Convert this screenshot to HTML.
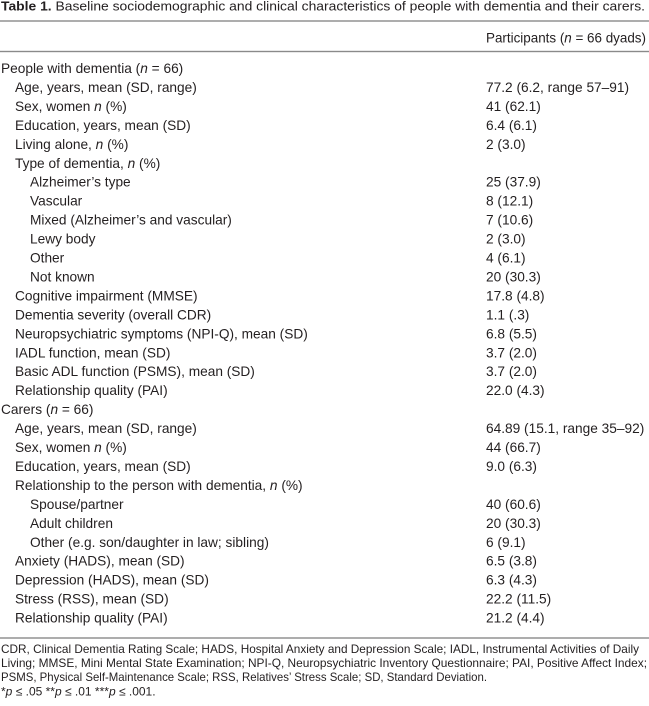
<!DOCTYPE html>
<html>
<head>
<meta charset="utf-8">
<style>
  html,body{margin:0;padding:0;background:#fff;}
  svg{display:block;}
  text{font-family:"Liberation Sans",sans-serif;fill:#231f20;}
  .b{font-size:13.7px;}
  .f{font-size:12px;}
  .i{font-style:italic;}
</style>
</head>
<body>
<svg width="649" height="706" viewBox="0 0 649 706" xmlns="http://www.w3.org/2000/svg">
  <rect width="649" height="706" fill="#fff"/>
  <!-- title -->
  <text x="1" y="10.5" style="font-size:12.5px" textLength="644" lengthAdjust="spacingAndGlyphs"><tspan font-weight="bold">Table 1.</tspan> Baseline sociodemographic and clinical characteristics of people with dementia and their carers.</text>
  <!-- rules -->
  <rect x="0" y="20.3" width="649" height="1.4" fill="#8a8a8a"/>
  <rect x="0" y="50.8" width="649" height="1.4" fill="#8a8a8a"/>
  <rect x="0" y="637.3" width="649" height="1.4" fill="#8a8a8a"/>
  <!-- header -->
  <text class="b" x="486" y="42.3" textLength="160" lengthAdjust="spacingAndGlyphs">Participants (<tspan class="i">n</tspan> = 66 dyads)</text>

  <!-- rows: baseline = 73 + i*18.95 -->
  <g class="b">
    <text x="1" y="73">People with dementia (<tspan class="i">n</tspan> = 66)</text>

    <text x="15" y="91.95">Age, years, mean (SD, range)</text>
    <text x="486" y="91.95">77.2 (6.2, range 57–91)</text>

    <text x="15" y="110.9">Sex, women <tspan class="i">n</tspan> (%)</text>
    <text x="486" y="110.9">41 (62.1)</text>

    <text x="15" y="129.85">Education, years, mean (SD)</text>
    <text x="486" y="129.85">6.4 (6.1)</text>

    <text x="15" y="148.8">Living alone, <tspan class="i">n</tspan> (%)</text>
    <text x="486" y="148.8">2 (3.0)</text>

    <text x="15" y="167.75">Type of dementia, <tspan class="i">n</tspan> (%)</text>

    <text x="30" y="186.7">Alzheimer’s type</text>
    <text x="486" y="186.7">25 (37.9)</text>

    <text x="30" y="205.65">Vascular</text>
    <text x="486" y="205.65">8 (12.1)</text>

    <text x="30" y="224.6">Mixed (Alzheimer’s and vascular)</text>
    <text x="486" y="224.6">7 (10.6)</text>

    <text x="30" y="243.55">Lewy body</text>
    <text x="486" y="243.55">2 (3.0)</text>

    <text x="30" y="262.5">Other</text>
    <text x="486" y="262.5">4 (6.1)</text>

    <text x="30" y="281.45">Not known</text>
    <text x="486" y="281.45">20 (30.3)</text>

    <text x="15" y="300.4">Cognitive impairment (MMSE)</text>
    <text x="486" y="300.4">17.8 (4.8)</text>

    <text x="15" y="319.35">Dementia severity (overall CDR)</text>
    <text x="486" y="319.35">1.1 (.3)</text>

    <text x="15" y="338.3">Neuropsychiatric symptoms (NPI-Q), mean (SD)</text>
    <text x="486" y="338.3">6.8 (5.5)</text>

    <text x="15" y="357.25">IADL function, mean (SD)</text>
    <text x="486" y="357.25">3.7 (2.0)</text>

    <text x="15" y="376.2">Basic ADL function (PSMS), mean (SD)</text>
    <text x="486" y="376.2">3.7 (2.0)</text>

    <text x="15" y="395.15">Relationship quality (PAI)</text>
    <text x="486" y="395.15">22.0 (4.3)</text>

    <text x="1" y="414.1">Carers (<tspan class="i">n</tspan> = 66)</text>

    <text x="15" y="433.05">Age, years, mean (SD, range)</text>
    <text x="486" y="433.05">64.89 (15.1, range 35–92)</text>

    <text x="15" y="452">Sex, women <tspan class="i">n</tspan> (%)</text>
    <text x="486" y="452">44 (66.7)</text>

    <text x="15" y="470.95">Education, years, mean (SD)</text>
    <text x="486" y="470.95">9.0 (6.3)</text>

    <text x="15" y="489.9">Relationship to the person with dementia, <tspan class="i">n</tspan> (%)</text>

    <text x="30" y="508.85">Spouse/partner</text>
    <text x="486" y="508.85">40 (60.6)</text>

    <text x="30" y="527.8">Adult children</text>
    <text x="486" y="527.8">20 (30.3)</text>

    <text x="30" y="546.75">Other (e.g. son/daughter in law; sibling)</text>
    <text x="486" y="546.75">6 (9.1)</text>

    <text x="15" y="565.7">Anxiety (HADS), mean (SD)</text>
    <text x="486" y="565.7">6.5 (3.8)</text>

    <text x="15" y="584.65">Depression (HADS), mean (SD)</text>
    <text x="486" y="584.65">6.3 (4.3)</text>

    <text x="15" y="603.6">Stress (RSS), mean (SD)</text>
    <text x="486" y="603.6">22.2 (11.5)</text>

    <text x="15" y="622.55">Relationship quality (PAI)</text>
    <text x="486" y="622.55">21.2 (4.4)</text>
  </g>

  <!-- footnotes -->
  <g class="f">
    <text x="1" y="653" textLength="638" lengthAdjust="spacingAndGlyphs">CDR, Clinical Dementia Rating Scale; HADS, Hospital Anxiety and Depression Scale; IADL, Instrumental Activities of Daily</text>
    <text x="1" y="667" textLength="646" lengthAdjust="spacingAndGlyphs">Living; MMSE, Mini Mental State Examination; NPI-Q, Neuropsychiatric Inventory Questionnaire; PAI, Positive Affect Index;</text>
    <text x="1" y="681.2" textLength="486" lengthAdjust="spacingAndGlyphs">PSMS, Physical Self-Maintenance Scale; RSS, Relatives’ Stress Scale; SD, Standard Deviation.</text>
    <text x="1" y="695.4">*<tspan class="i">p</tspan> ≤ .05 **<tspan class="i">p</tspan> ≤ .01 ***<tspan class="i">p</tspan> ≤ .001.</text>
  </g>
</svg>
</body>
</html>
